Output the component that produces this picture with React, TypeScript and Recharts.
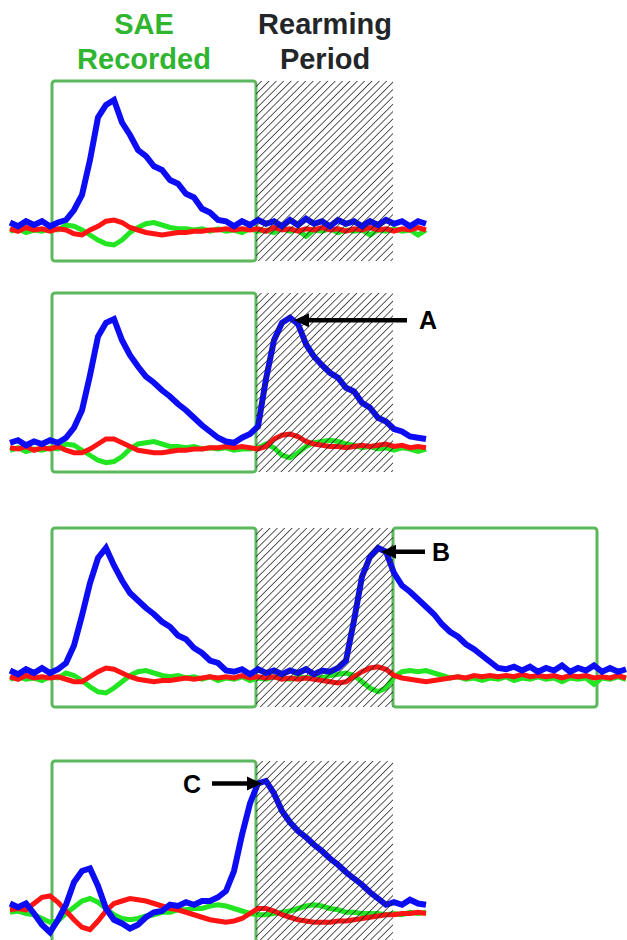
import React from 'react';
import { LineChart, Line, XAxis, YAxis, ReferenceArea, ReferenceLine } from 'recharts';

// sample times (ms) shared by every trace
const TIME_MS = [10, 18, 26, 34, 42, 50, 58, 66, 74, 82, 90, 98, 106, 114, 122, 130, 138, 146, 154, 162,
  170, 178, 186, 194, 202, 210, 218, 226, 234, 242, 250, 258, 266, 274, 282, 290, 298, 306, 314, 322,
  330, 338, 346, 354, 362, 370, 378, 386, 394, 402, 410, 418, 426, 434, 442, 450, 458, 466, 474, 482,
  490, 498, 506, 514, 522, 530, 538, 546, 554, 562, 570, 578, 586, 594, 602, 610, 618, 626];

// normalised amplitudes, panel by panel
const P1_BLUE = [0.02, -0.01, 0.03, 0.00, 0.03, -0.01, 0.02, 0.04, 0.12, 0.24,
  0.52, 0.86, 0.96, 1.00, 0.82, 0.72, 0.60, 0.55, 0.47, 0.44,
  0.36, 0.33, 0.25, 0.22, 0.13, 0.10, 0.04, 0.03, -0.01, 0.03,
  0.00, 0.04, 0.01, 0.03, -0.01, 0.04, 0.00, 0.05, 0.01, 0.03,
  -0.01, 0.04, 0.01, 0.03, -0.01, 0.03, 0.00, 0.04, 0.01, 0.03,
  -0.01, 0.03, 0.01];
const P1_RED = [-0.03, -0.05, -0.02, -0.04, -0.03, -0.05, -0.03, -0.04, -0.07, -0.08,
  -0.04, -0.01, 0.03, 0.04, 0.02, -0.02, -0.04, -0.06, -0.07, -0.08,
  -0.07, -0.06, -0.06, -0.05, -0.05, -0.04, -0.04, -0.03, -0.04, -0.03,
  -0.04, -0.03, -0.05, -0.02, -0.04, -0.03, -0.05, -0.03, -0.04, -0.02,
  -0.04, -0.03, -0.05, -0.03, -0.04, -0.02, -0.04, -0.03, -0.05, -0.03,
  -0.04, -0.02, -0.04];
const P1_GREEN = [-0.05, -0.03, -0.06, -0.04, -0.05, -0.03, -0.04, 0.00, -0.01, -0.04,
  -0.08, -0.12, -0.15, -0.16, -0.12, -0.06, -0.02, 0.01, 0.02, 0.00,
  -0.02, -0.03, -0.03, -0.04, -0.03, -0.05, -0.03, -0.05, -0.04, -0.06,
  -0.03, -0.05, -0.04, -0.06, -0.03, -0.05, -0.04, -0.09, -0.04, -0.05,
  -0.03, -0.06, -0.04, -0.05, -0.04, -0.08, -0.04, -0.05, -0.03, -0.05,
  -0.04, -0.08, -0.04];

const P2_BLUE = [0.01, 0.03, -0.01, 0.02, 0.00, 0.03, 0.01, 0.05, 0.13, 0.27,
  0.55, 0.86, 0.97, 1.00, 0.83, 0.71, 0.62, 0.54, 0.49, 0.43,
  0.38, 0.32, 0.27, 0.21, 0.15, 0.10, 0.05, 0.02, 0.01, 0.05,
  0.08, 0.14, 0.52, 0.83, 0.97, 1.01, 0.96, 0.80, 0.70, 0.63,
  0.57, 0.53, 0.45, 0.42, 0.33, 0.29, 0.21, 0.18, 0.12, 0.10,
  0.06, 0.05, 0.04];
const P2_RED = [-0.03, -0.04, -0.02, -0.05, -0.03, -0.04, -0.02, -0.05, -0.07, -0.07,
  -0.04, 0.00, 0.04, 0.04, 0.01, -0.02, -0.05, -0.06, -0.07, -0.07,
  -0.06, -0.05, -0.05, -0.04, -0.04, -0.03, -0.03, -0.02, -0.03, -0.02,
  -0.03, -0.04, -0.02, 0.04, 0.07, 0.08, 0.06, 0.02, 0.00, -0.01,
  -0.02, -0.02, -0.03, -0.02, -0.01, -0.02, -0.01, 0.00, -0.02, -0.01,
  -0.03, -0.02, -0.03];
const P2_GREEN = [-0.05, -0.03, -0.06, -0.04, -0.05, -0.03, -0.04, 0.00, -0.01, -0.05,
  -0.09, -0.13, -0.15, -0.14, -0.10, -0.04, 0.00, 0.01, 0.02, 0.00,
  -0.02, -0.02, -0.03, -0.02, -0.04, -0.03, -0.04, -0.03, -0.05, -0.04,
  -0.04, -0.03, 0.00, -0.03, -0.09, -0.11, -0.07, -0.02, 0.01, 0.02,
  0.03, 0.02, 0.00, -0.01, -0.03, -0.02, -0.04, -0.03, -0.05, -0.03,
  -0.04, -0.06, -0.04];

const P3_BLUE = [0.02, -0.01, 0.03, 0.00, 0.04, 0.00, 0.03, 0.08, 0.22, 0.46,
  0.72, 0.92, 1.00, 0.86, 0.74, 0.64, 0.58, 0.52, 0.47, 0.41,
  0.37, 0.30, 0.27, 0.20, 0.16, 0.10, 0.08, 0.02, 0.01, 0.03,
  -0.01, 0.03, 0.00, 0.02, -0.01, 0.02, 0.00, 0.03, -0.01, 0.02,
  0.01, 0.04, 0.10, 0.42, 0.77, 0.93, 1.00, 0.97, 0.80, 0.70,
  0.65, 0.59, 0.53, 0.47, 0.39, 0.33, 0.29, 0.23, 0.19, 0.14,
  0.09, 0.04, 0.03, 0.05, 0.02, 0.05, 0.01, 0.04, 0.02, 0.06,
  0.01, 0.04, 0.02, 0.06, 0.01, 0.04, 0.01, 0.03];
const P3_RED = [-0.03, -0.05, -0.02, -0.04, -0.03, -0.04, -0.03, -0.05, -0.07, -0.07,
  -0.03, 0.01, 0.04, 0.03, 0.00, -0.03, -0.05, -0.06, -0.07, -0.06,
  -0.06, -0.05, -0.04, -0.05, -0.04, -0.03, -0.04, -0.03, -0.04, -0.02,
  -0.04, -0.03, -0.04, -0.03, -0.05, -0.04, -0.05, -0.04, -0.05, -0.06,
  -0.07, -0.08, -0.07, -0.03, 0.01, 0.04, 0.05, 0.03, -0.02, -0.04,
  -0.05, -0.06, -0.07, -0.06, -0.05, -0.04, -0.03, -0.04, -0.02, -0.03,
  -0.02, -0.03, -0.02, -0.03, -0.01, -0.03, -0.02, -0.03, -0.02, -0.04,
  -0.02, -0.03, -0.02, -0.04, -0.03, -0.04, -0.02, -0.04];
const P3_GREEN = [-0.05, -0.03, -0.05, -0.04, -0.06, -0.03, -0.04, 0.00, -0.02, -0.06,
  -0.11, -0.15, -0.16, -0.12, -0.07, -0.02, 0.01, 0.02, 0.00, -0.02,
  -0.03, -0.02, -0.04, -0.03, -0.05, -0.03, -0.06, -0.04, -0.05, -0.03,
  -0.06, -0.04, -0.05, -0.03, -0.04, -0.05, -0.03, -0.04, -0.03, -0.04,
  -0.02, -0.01, 0.00, -0.02, -0.07, -0.12, -0.15, -0.12, -0.03, 0.01,
  0.02, 0.01, 0.02, 0.00, -0.02, -0.04, -0.03, -0.05, -0.04, -0.06,
  -0.04, -0.05, -0.03, -0.06, -0.04, -0.05, -0.03, -0.05, -0.04, -0.07,
  -0.04, -0.05, -0.04, -0.09, -0.04, -0.05, -0.03, -0.05];

const P4_BLUE = [0.02, -0.01, 0.02, -0.06, -0.15, -0.21, -0.11, 0.01, 0.19, 0.28,
  0.30, 0.16, -0.02, -0.11, -0.14, -0.18, -0.15, -0.09, -0.05, -0.04,
  0.01, 0.00, 0.03, 0.01, 0.04, 0.04, 0.07, 0.12, 0.28, 0.57,
  0.82, 0.98, 1.00, 0.90, 0.76, 0.67, 0.60, 0.55, 0.49, 0.44,
  0.38, 0.33, 0.27, 0.22, 0.17, 0.11, 0.06, 0.01, 0.03, 0.01,
  0.05, 0.02, 0.01];
const P4_RED = [-0.03, -0.02, -0.03, 0.02, 0.07, 0.08, 0.03, -0.04, -0.11, -0.17,
  -0.19, -0.12, -0.04, 0.02, 0.04, 0.06, 0.05, 0.04, 0.02, 0.00,
  -0.02, -0.03, -0.05, -0.07, -0.09, -0.11, -0.12, -0.13, -0.12, -0.10,
  -0.06, -0.02, -0.02, -0.04, -0.07, -0.09, -0.11, -0.12, -0.13, -0.13,
  -0.13, -0.12, -0.12, -0.11, -0.10, -0.09, -0.08, -0.07, -0.07, -0.06,
  -0.06, -0.05, -0.06];
const P4_GREEN = [-0.05, -0.04, -0.06, -0.07, -0.10, -0.13, -0.12, -0.06, -0.01, 0.04,
  0.06, 0.03, -0.02, -0.07, -0.10, -0.11, -0.10, -0.08, -0.07, -0.05,
  -0.05, -0.03, -0.03, -0.02, -0.02, 0.00, 0.01, 0.00, -0.02, -0.04,
  -0.06, -0.07, -0.07, -0.06, -0.05, -0.04, -0.02, 0.00, 0.01, 0.00,
  -0.02, -0.03, -0.05, -0.05, -0.06, -0.06, -0.06, -0.07, -0.06, -0.07,
  -0.05, -0.06, -0.05];

const rows = (blue: number[], red: number[], green: number[]) =>
  blue.map((b, i) => ({ t: TIME_MS[i], blue: b, red: red[i], green: green[i] }));

const X_DOMAIN = [0, 627];
const Y_DOMAIN = [-0.36, 1.24];
const HATCH: [number, number] = [256, 393];

const PANELS = [
  { top: 70, data: rows(P1_BLUE, P1_RED, P1_GREEN), boxes: [[52, 256]], yTop: 1.152, yBottom: -0.288 },
  { top: 289, data: rows(P2_BLUE, P2_RED, P2_GREEN), boxes: [[52, 256]], yTop: 1.208, yBottom: -0.224 },
  { top: 518, data: rows(P3_BLUE, P3_RED, P3_GREEN), boxes: [[52, 256], [393, 597]], yTop: 1.16, yBottom: -0.272 },
  { top: 751, data: rows(P4_BLUE, P4_RED, P4_GREEN), boxes: [[52, 256]], yTop: 1.16, yBottom: -0.312 },
];

// arrows: panel index, tail -> tip (time, amplitude), label
const ARROWS = [
  { panel: 1, tail: [407, 0.99], tip: [294, 0.99], text: 'A', dx: 21 },
  { panel: 2, tail: [425, 0.97], tip: [381, 0.97], text: 'B', dx: 16 },
  { panel: 3, tail: [212, 0.98], tip: [262, 0.98], text: 'C', dx: -20 },
];

const BOX_GREEN = '#5cb85c';

function ArrowShape(props: any) {
  const { x1, y1, x2, y2, text, dx } = props;
  const dir = x2 > x1 ? 1 : -1;
  return (
    <g>
      <line x1={x1} y1={y1} x2={x2 - dir * 12} y2={y2} stroke="#000" strokeWidth={4.5} />
      <polygon points={`${x2},${y2} ${x2 - dir * 15},${y2 - 7} ${x2 - dir * 15},${y2 + 7}`} fill="#000" />
      <text x={x1 + dx} y={y1 + 9} textAnchor="middle" fontSize={25} fontWeight="bold"
        fontFamily="'Liberation Sans', Arial, sans-serif" fill="#000">{text}</text>
    </g>
  );
}

const titleStyle: React.CSSProperties = {
  position: 'absolute', top: 7, width: 200, textAlign: 'center', fontSize: 29, lineHeight: '35px',
  fontWeight: 'bold', fontFamily: "'Liberation Sans', Arial, sans-serif",
};

const chartProps = { width: 627, height: 200, margin: { top: 0, right: 0, bottom: 0, left: 0 } };

export default function App() {
  return (
    <div style={{ position: 'absolute', left: 0, top: 0, width: 627, height: 940, overflow: 'hidden', background: '#fff' }}>
      <svg width={0} height={0} style={{ position: 'absolute' }}>
        <defs>
          <pattern id="hatch" patternUnits="userSpaceOnUse" width={5.2} height={5.2} patternTransform="rotate(45)">
            <line x1={0} y1={0} x2={0} y2={5.2} stroke="#222" strokeWidth={1.5} />
          </pattern>
        </defs>
      </svg>
      <div style={{ ...titleStyle, left: 44, color: '#2fb52f' }}>SAE<br />Recorded</div>
      <div style={{ ...titleStyle, left: 225, color: '#232629' }}>Rearming<br />Period</div>
      {PANELS.map((p, pi) => (
        <div key={pi} style={{ position: 'absolute', left: 0, top: p.top }}>
          <LineChart {...chartProps} data={p.data}>
            <XAxis dataKey="t" type="number" domain={X_DOMAIN} hide allowDataOverflow />
            <YAxis type="number" domain={Y_DOMAIN} hide allowDataOverflow />
            {p.boxes.map((b, bi) => (
              <ReferenceArea key={bi} x1={b[0]} x2={b[1]} y1={p.yBottom} y2={p.yTop} fill="none"
                stroke={BOX_GREEN} strokeWidth={3} radius={3} ifOverflow="visible" />
            ))}
            <Line dataKey="green" stroke="#22e622" strokeWidth={5} dot={false} isAnimationActive={false} />
            <Line dataKey="red" stroke="#ff1414" strokeWidth={5} dot={false} isAnimationActive={false} />
            <Line dataKey="blue" stroke="#0c0cf5" strokeWidth={6} dot={false} isAnimationActive={false} />
          </LineChart>
          {/* overlay: rearming hatch and arrows sit on top of the traces */}
          <div style={{ position: 'absolute', left: 0, top: 0 }}>
            <LineChart {...chartProps} data={p.data}>
              <XAxis dataKey="t" type="number" domain={X_DOMAIN} hide allowDataOverflow />
              <YAxis type="number" domain={Y_DOMAIN} hide allowDataOverflow />
              <ReferenceArea x1={HATCH[0]} x2={HATCH[1]} y1={p.yBottom} y2={p.yTop} fill="url(#hatch)"
                fillOpacity={1} stroke="none" ifOverflow="visible" />
              {ARROWS.filter(a => a.panel === pi).map((a, ai) => (
                <ReferenceLine key={ai} segment={[{ x: a.tail[0], y: a.tail[1] }, { x: a.tip[0], y: a.tip[1] }]}
                  ifOverflow="visible"
                  shape={(sp: any) => <ArrowShape {...sp} text={a.text} dx={a.dx} />} />
              ))}
            </LineChart>
          </div>
        </div>
      ))}
    </div>
  );
}
